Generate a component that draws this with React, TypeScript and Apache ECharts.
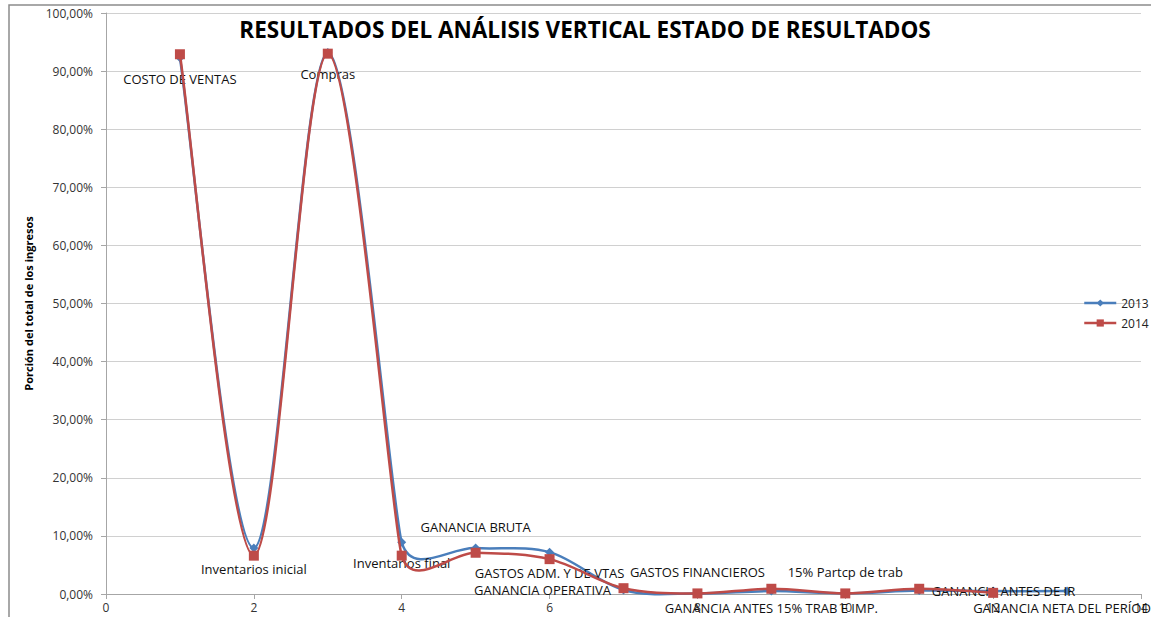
import React, { useEffect, useRef } from "react";
import * as echarts from "echarts";

const xValues = [1, 2, 3, 4, 5, 6, 7, 8, 9, 10, 11, 12, 13];
const labels2013 = [
  "COSTO DE VENTAS",
  "Inventarios inicial",
  "Compras",
  "Inventarios final",
  "GANANCIA BRUTA",
  "GASTOS ADM. Y DE VTAS",
  "GANANCIA OPERATIVA",
  "GASTOS FINANCIEROS",
  "GANANCIA ANTES 15% TRAB E IMP.",
  "15% Partcp de trab",
  "GANANCIA ANTES DE IR",
  "",
  "GANANCIA NETA DEL PERÍODO",
];
const labelPositions = [
  "bottom", "bottom", "bottom", "bottom", "top", "bottom", "left",
  "top", "bottom", "top", "right", "bottom", "bottom",
];
const values2013 = [92.3, 7.9, 93.2, 8.9, 7.9, 7.2, 0.7, 0.1, 0.5, 0.1, 0.6, 0.5, 0.5];
const values2014 = [92.9, 6.6, 93.0, 6.6, 7.1, 6.0, 1.0, 0.1, 0.9, 0.1, 0.9, 0.2, null];
const seriesNames = ["2013", "2014"];
const seriesColors = ["#4a7ebb", "#be4b48"];
const title = "RESULTADOS DEL ANÁLISIS VERTICAL ESTADO DE RESULTADOS";
const yAxisTitle = "Porción del total de los ingresos";

const FONT = "'Open Sans', 'Liberation Sans', sans-serif";

const dist = (a: number[], b: number[]) => Math.hypot(a[0] - b[0], a[1] - b[1]);

// Excel-like smoothed curve: Bezier segments whose control arms follow the
// neighbours' direction, limited to half the length of the adjacent segments.
function armFactor(p0: number[], p1: number[], p2: number[]) {
  const d02 = dist(p0, p2);
  if (d02 === 0) return 0;
  let f = 1 / 6;
  const d01 = dist(p0, p1);
  const d12 = dist(p1, p2);
  if (d01 > 0) f = Math.min(f, d01 / (2 * d02));
  if (d12 > 0) f = Math.min(f, d12 / (2 * d02));
  return f;
}

function curveSeries(name: string, vals: (number | null)[], color: string, z: number) {
  return {
    type: "custom",
    name: name + " curva",
    z,
    data: xValues.map((x, i) => [x, vals[i] == null ? 0 : vals[i]]),
    encode: { x: 0, y: 1 },
    renderItem: (params: any, api: any) => {
      const i = params.dataIndex;
      const n = xValues.length;
      if (i >= n - 1 || vals[i] == null || vals[i + 1] == null) return null;
      const pt = (k: number) => api.coord([xValues[k], vals[k] as number]);
      const p1 = pt(i);
      const p2 = pt(i + 1);
      const p0 = i > 0 && vals[i - 1] != null ? pt(i - 1) : p1;
      const p3 = i + 2 < n && vals[i + 2] != null ? pt(i + 2) : p2;
      const f1 = armFactor(p0, p1, p2);
      const f2 = armFactor(p1, p2, p3);
      return {
        type: "bezierCurve",
        shape: {
          x1: p1[0],
          y1: p1[1],
          cpx1: p1[0] + (p2[0] - p0[0]) * f1,
          cpy1: p1[1] + (p2[1] - p0[1]) * f1,
          cpx2: p2[0] - (p3[0] - p1[0]) * f2,
          cpy2: p2[1] - (p3[1] - p1[1]) * f2,
          x2: p2[0],
          y2: p2[1],
        },
        style: { stroke: color, lineWidth: 2.5, fill: "none" },
      };
    },
    silent: true,
  };
}

export default function App() {
  const ref = useRef<HTMLDivElement>(null);
  useEffect(() => {
    if (!ref.current) return;
    const chart = echarts.init(ref.current, undefined, { renderer: "svg" });
    const d2013 = xValues.map((x, i) => {
      const pos = labelPositions[i];
      const lowBottom = pos === "bottom" && (values2013[i] as number) < 2;
      return {
        value: [x, values2013[i]],
        label: {
          show: labels2013[i] !== "",
          formatter: labels2013[i],
          position: pos,
          distance: pos === "left" || pos === "right" ? 8 : lowBottom ? 6 : 10,
        },
      };
    });
    const d2014 = xValues.map((x, i) => [x, values2014[i]]);
    chart.setOption({
      animation: false,
      backgroundColor: "#ffffff",
      title: {
        text: title,
        left: 580,
        textAlign: "center",
        top: 13,
        textStyle: { fontFamily: FONT, fontSize: 22.5, fontWeight: "bold", color: "#000" },
      },
      legend: {
        orient: "vertical",
        left: 1078,
        top: 292,
        itemGap: 8,
        itemWidth: 32,
        itemHeight: 9,
        textStyle: { fontFamily: FONT, fontSize: 12, color: "#222" },
        data: seriesNames.map((nm, k) => ({
          name: nm,
          lineStyle: { color: seriesColors[k], width: 2.5, opacity: 1 },
        })),
      },
      graphic: [
        {
          type: "rect",
          shape: { x: 9, y: 5, width: 1300, height: 800 },
          style: { fill: "none", stroke: "#8c8c8c", lineWidth: 1.5 },
          silent: true,
        },
      ],
      grid: { left: 106, right: 10, top: 13, bottom: 23 },
      xAxis: {
        type: "value",
        min: 0,
        max: 14,
        interval: 2,
        axisLine: { show: true, lineStyle: { color: "#a6a6a6" } },
        axisTick: { show: true, length: 5, lineStyle: { color: "#a6a6a6" } },
        splitLine: { show: false },
        axisLabel: { fontFamily: FONT, fontSize: 12, color: "#333", margin: 7 },
      },
      yAxis: {
        type: "value",
        min: 0,
        max: 100,
        interval: 10,
        name: yAxisTitle,
        nameLocation: "middle",
        nameGap: 72,
        nameTextStyle: { fontFamily: FONT, fontSize: 11, fontWeight: "bold", color: "#000" },
        axisLine: { show: true, lineStyle: { color: "#a6a6a6" } },
        axisTick: { show: true, length: 5, lineStyle: { color: "#a6a6a6" } },
        splitLine: { show: true, lineStyle: { color: "#d0d0d0", width: 1 } },
        axisLabel: {
          fontFamily: FONT,
          fontSize: 12,
          color: "#333",
          margin: 13,
          formatter: (v: number) => v.toFixed(2).replace(".", ",") + "%",
        },
      },
      series: [
        curveSeries(seriesNames[0], values2013, seriesColors[0], 1),
        {
          name: seriesNames[0],
          type: "line",
          data: d2013,
          symbol: "diamond",
          symbolSize: 9,
          itemStyle: { color: seriesColors[0] },
          lineStyle: { color: seriesColors[0], width: 2.5, opacity: 0 },
          label: { fontFamily: FONT, fontSize: 13, color: "#111" },
          labelLayout: { hideOverlap: false },
          z: 2,
        },
        curveSeries(seriesNames[1], values2014, seriesColors[1], 3),
        {
          name: seriesNames[1],
          type: "line",
          data: d2014,
          connectNulls: false,
          symbol: "rect",
          symbolSize: 10,
          itemStyle: { color: seriesColors[1] },
          lineStyle: { color: seriesColors[1], width: 2.5, opacity: 0 },
          z: 4,
        },
      ],
    });
    return () => chart.dispose();
  }, []);
  return (
    <div
      ref={ref}
      style={{ position: "fixed", left: 0, top: 0, width: 1151, height: 617 }}
    />
  );
}
